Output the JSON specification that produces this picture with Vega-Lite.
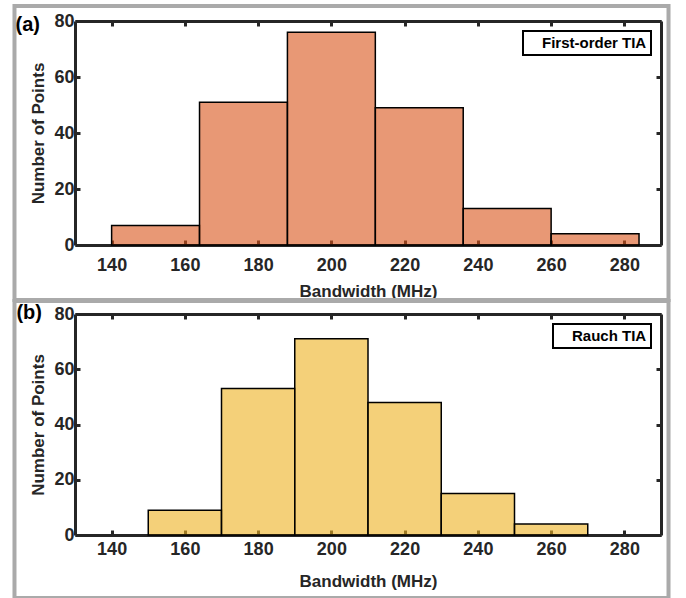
{
  "$schema": "https://vega.github.io/schema/vega-lite/v6.json",
  "padding": {"left": 12, "top": 3, "right": 0, "bottom": 0},
  "background": "white",
  "spacing": -4,
  "datasets": {
    "a": [
      {"start": 140, "end": 164, "count": 7},
      {"start": 164, "end": 188, "count": 51},
      {"start": 188, "end": 212, "count": 76},
      {"start": 212, "end": 236, "count": 49},
      {"start": 236, "end": 260, "count": 13},
      {"start": 260, "end": 284, "count": 4}
    ],
    "b": [
      {"start": 150, "end": 170, "count": 9},
      {"start": 170, "end": 190, "count": 53},
      {"start": 190, "end": 210, "count": 71},
      {"start": 210, "end": 230, "count": 48},
      {"start": 230, "end": 250, "count": 15},
      {"start": 250, "end": 270, "count": 4}
    ]
  },
  "config": {
    "font": "Liberation Sans",
    "view": {"stroke": null},
    "axis": {
      "domainColor": "#262626", "domainWidth": 3,
      "tickColor": "#262626", "tickWidth": 3, "tickSize": -5,
      "labelFont": "Liberation Sans", "labelFontWeight": "bold", "labelFontSize": 18, "labelColor": "#262626",
      "titleFont": "Liberation Sans", "titleFontWeight": "bold", "titleFontSize": 17, "titleColor": "#262626",
      "gridColor": "#d9d9d9", "gridWidth": 2
    },
    "legend": {"strokeWidth": 2}
  },
  "resolve": {"scale": {"color": "independent"}, "legend": {"color": "independent"}},
  "vconcat": [
    {
      "width": 586, "height": 224,
      "resolve": {"axis": {"x": "independent", "y": "independent"}},
      "layer": [
        {
          "data": {"values": [{}]},
          "mark": {"type": "rect", "filled": false, "stroke": "#aaaaaa", "strokeWidth": 4, "clip": false},
          "encoding": {
            "x": {"datum": 113.48, "type": "quantitative", "scale": {"domain": [130, 290], "nice": false, "zero": false}, "axis": null},
            "x2": {"datum": 292.05},
            "y": {"datum": 85.36, "type": "quantitative", "scale": {"domain": [0, 80], "nice": false}, "axis": null},
            "y2": {"datum": -19.64}
          }
        },
        {
          "data": {"name": "a"},
          "mark": {"type": "rect", "stroke": "black", "strokeWidth": 1.5, "fillOpacity": 0.6},
          "encoding": {
            "x": {"field": "start", "type": "quantitative", "scale": {"domain": [130, 290], "nice": false, "zero": false},
                  "axis": {"orient": "bottom", "values": [140, 160, 180, 200, 220, 240, 260, 280], "title": "Bandwidth (MHz)", "labelPadding": 16, "titlePadding": 9}},
            "x2": {"field": "end"},
            "y": {"field": "count", "type": "quantitative", "scale": {"domain": [0, 80], "nice": false},
                  "axis": {"orient": "left", "values": [0, 20, 40, 60, 80], "title": "Number of Points", "labelPadding": 6, "titlePadding": 6}},
            "y2": {"datum": 0},
            "color": {"datum": "First-order TIA", "type": "nominal", "scale": {"range": ["#D95319"]},
                      "legend": {"orient": "top-right", "offset": 10, "title": null, "symbolSize": 0, "symbolOpacity": 0, "symbolStrokeWidth": 0, "labelOffset": 0,
                                 "labelFont": "Liberation Sans", "labelFontWeight": "bold", "labelFontSize": 15, "labelColor": "#000000",
                                 "strokeColor": "#000000", "fillColor": "white", "padding": 4}}
          }
        },
        {
          "data": {"name": "a"},
          "mark": {"type": "point", "opacity": 0},
          "encoding": {
            "x": {"field": "start", "type": "quantitative", "scale": {"domain": [130, 290], "nice": false, "zero": false},
                  "axis": {"orient": "top", "values": [140, 160, 180, 200, 220, 240, 260, 280], "labels": false, "title": null, "grid": false}},
            "y": {"field": "count", "type": "quantitative", "scale": {"domain": [0, 80], "nice": false},
                  "axis": {"orient": "right", "values": [0, 20, 40, 60, 80], "labels": false, "title": null, "grid": false}}
          }
        },
        {
          "data": {"values": [{"label": "(a)"}]},
          "mark": {"type": "text", "align": "left", "baseline": "middle", "font": "Liberation Sans", "fontSize": 20, "fontWeight": "bold", "color": "#000000", "clip": false},
          "encoding": {
            "x": {"datum": 113.75, "type": "quantitative", "axis": null},
            "y": {"datum": 78.6, "type": "quantitative", "axis": null},
            "text": {"field": "label"}
          }
        }
      ]
    },
    {
      "width": 586, "height": 221,
      "resolve": {"axis": {"x": "independent", "y": "independent"}},
      "layer": [
        {
          "data": {"values": [{}]},
          "mark": {"type": "rect", "filled": false, "stroke": "#aaaaaa", "strokeWidth": 4, "clip": false},
          "encoding": {
            "x": {"datum": 113.48, "type": "quantitative", "scale": {"domain": [130, 290], "nice": false, "zero": false}, "axis": null},
            "x2": {"datum": 292.05},
            "y": {"datum": 84.71, "type": "quantitative", "scale": {"domain": [0, 80], "nice": false}, "axis": null},
            "y2": {"datum": -22.8}
          }
        },
        {
          "data": {"name": "b"},
          "mark": {"type": "rect", "stroke": "black", "strokeWidth": 1.5, "fillOpacity": 0.6},
          "encoding": {
            "x": {"field": "start", "type": "quantitative", "scale": {"domain": [130, 290], "nice": false, "zero": false},
                  "axis": {"orient": "bottom", "values": [140, 160, 180, 200, 220, 240, 260, 280], "title": "Bandwidth (MHz)", "labelPadding": 10, "titlePadding": 15}},
            "x2": {"field": "end"},
            "y": {"field": "count", "type": "quantitative", "scale": {"domain": [0, 80], "nice": false},
                  "axis": {"orient": "left", "values": [0, 20, 40, 60, 80], "title": "Number of Points", "labelPadding": 6, "titlePadding": 6}},
            "y2": {"datum": 0},
            "color": {"datum": "Rauch TIA", "type": "nominal", "scale": {"range": ["#EDB120"]},
                      "legend": {"orient": "top-right", "offset": 10, "title": null, "symbolSize": 0, "symbolOpacity": 0, "symbolStrokeWidth": 0, "labelOffset": 0,
                                 "labelFont": "Liberation Sans", "labelFontWeight": "bold", "labelFontSize": 15, "labelColor": "#000000",
                                 "strokeColor": "#000000", "fillColor": "white", "padding": 4}}
          }
        },
        {
          "data": {"name": "b"},
          "mark": {"type": "point", "opacity": 0},
          "encoding": {
            "x": {"field": "start", "type": "quantitative", "scale": {"domain": [130, 290], "nice": false, "zero": false},
                  "axis": {"orient": "top", "values": [140, 160, 180, 200, 220, 240, 260, 280], "labels": false, "title": null, "grid": false}},
            "y": {"field": "count", "type": "quantitative", "scale": {"domain": [0, 80], "nice": false},
                  "axis": {"orient": "right", "values": [0, 20, 40, 60, 80], "labels": false, "title": null, "grid": false}}
          }
        },
        {
          "data": {"values": [{"label": "(b)"}]},
          "mark": {"type": "text", "align": "left", "baseline": "middle", "font": "Liberation Sans", "fontSize": 20, "fontWeight": "bold", "color": "#000000", "clip": false},
          "encoding": {
            "x": {"datum": 114.0, "type": "quantitative", "axis": null},
            "y": {"datum": 80.2, "type": "quantitative", "axis": null},
            "text": {"field": "label"}
          }
        }
      ]
    }
  ]
}
